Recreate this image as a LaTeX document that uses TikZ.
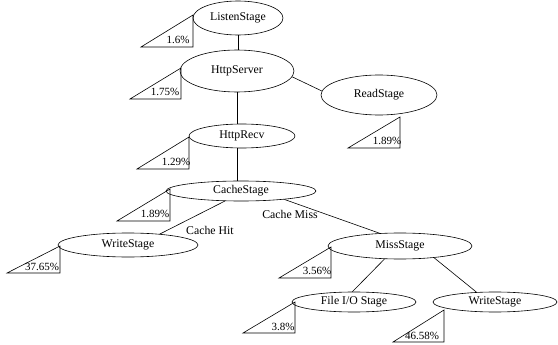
\documentclass[tikz,border=0pt]{standalone}
\usepackage{fontspec}
\setmainfont{Liberation Serif}
\usetikzlibrary{shapes.geometric}
\begin{document}
\begin{tikzpicture}[x=1pt,y=-1pt,
  stage/.style={draw,ellipse,inner sep=0pt,font=\fontsize{11.8}{14}\selectfont,line width=0.6pt},
  pct/.style={inner sep=0pt,font=\fontsize{11}{13}\selectfont},
  lbl/.style={inner sep=0pt,font=\fontsize{11.8}{14}\selectfont},
  tri/.style={draw,line width=0.6pt},
  link/.style={draw,line width=0.6pt}]
\useasboundingbox (0,0) rectangle (558,345);
% stages
\node[stage,minimum width=90pt,minimum height=34pt] (listen) at (238,18) {ListenStage};
\node[stage,minimum width=114pt,minimum height=42pt] (server) at (237,71) {HttpServer};
\node[stage,minimum width=116pt,minimum height=40pt] (read) at (379,95) {ReadStage};
\node[stage,minimum width=106pt,minimum height=24pt] (recv) at (242,136) {HttpRecv};
\node[stage,minimum width=150pt,minimum height=20pt] (cache) at (241,191) {CacheStage};
\node[stage,minimum width=140pt,minimum height=24pt] (writeL) at (128,245) {WriteStage};
\node[stage,minimum width=144pt,minimum height=26pt] (miss) at (400,246) {MissStage};
\node[stage,minimum width=124pt,minimum height=20pt] (fileio) at (354,302) {File I/O Stage};
\node[stage,minimum width=124pt,minimum height=20pt] (writeR) at (495,302) {WriteStage};
% connectors
\draw[link] (listen.south) -- (listen.south |- server.north);
\draw[link] (server.-6) -- (read.176);
\draw[link] (server.south) -- (server.south |- recv.north);
\draw[link] (server.south |- recv.south) -- (server.south |- cache.north);
\draw[link] (cache.212) -- (writeL.19);
\draw[link] (cache.-11) -- (miss.148);
\draw[link] (miss.220) -- (fileio.99);
\draw[link] (miss.-19) -- (writeR.152);
\node[lbl] (hit) at (210,230) {Cache Hit};
\node[lbl] (misslbl) at (290,214) {Cache Miss};
% percentage triangles
\draw[tri] (141,47) -- (193,47) -- (193,15) -- cycle;
\node[pct] (p1) at (178,40) {1.6\%};
\draw[tri] (130,99) -- (181,99) -- (181,68) -- cycle;
\node[pct] (p2) at (165,92) {1.75\%};
\draw[tri] (348,148) -- (400,148) -- (400,117) -- cycle;
\node[pct] (p3) at (387,141) {1.89\%};
\draw[tri] (137,169) -- (189,169) -- (189,137) -- cycle;
\node[pct] (p4) at (176,162) {1.29\%};
\draw[tri] (117,221) -- (170,221) -- (170,189) -- cycle;
\node[pct] (p5) at (155,214) {1.89\%};
\draw[tri] (7,273) -- (60,273) -- (60,246) -- cycle;
\node[pct] (p6) at (42,267) {37.65\%};
\draw[tri] (279,278) -- (331,278) -- (331,247) -- cycle;
\node[pct] (p7) at (317,271) {3.56\%};
\draw[tri] (243,333) -- (295,333) -- (295,302) -- cycle;
\node[pct] (p8) at (283,327) {3.8\%};
\draw[tri] (393,342) -- (444,342) -- (444,310) -- cycle;
\node[pct] (p9) at (422,336) {46.58\%};
\end{tikzpicture}
\end{document}
